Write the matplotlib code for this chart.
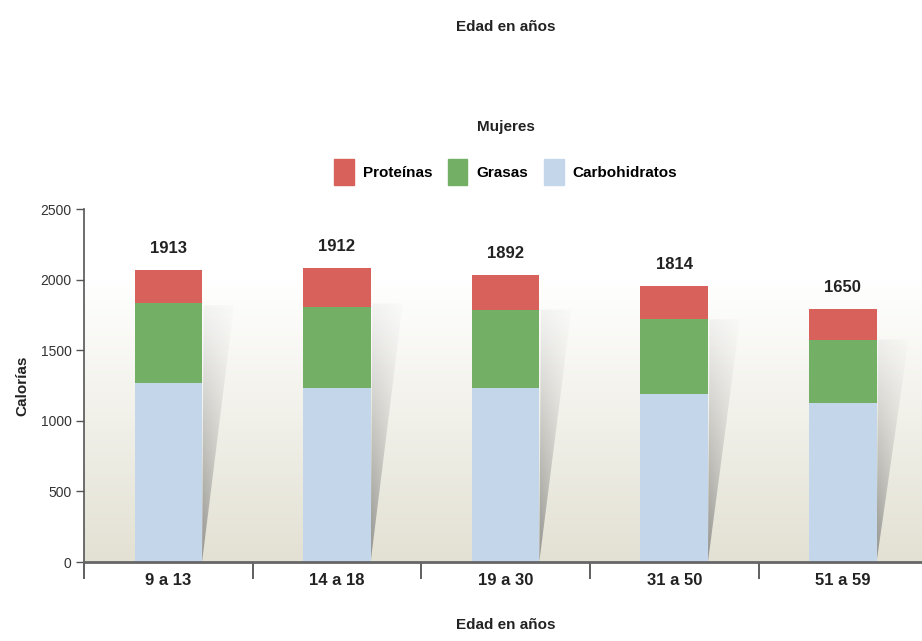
import numpy as np
import matplotlib
matplotlib.use('Agg')
import matplotlib.pyplot as plt
from matplotlib.patches import Polygon, Patch
from matplotlib.colors import to_rgb

plt.rcParams['font.family'] = ['Liberation Sans Narrow', 'Liberation Sans', 'DejaVu Sans']

# datos
edades = ['9 a 13', '14 a 18', '19 a 30', '31 a 50', '51 a 59']
carbohidratos = [1270, 1236, 1236, 1193, 1129]
grasas = [562, 568, 547, 526, 441]
proteinas = [235, 277, 248, 234, 220]
etiquetas = [1913, 1912, 1892, 1814, 1650]

c_prot = '#d9615b'
c_gras = '#73b066'
c_carb = '#c4d6e9'

fig = plt.figure(figsize=(9.22, 6.41), dpi=100, facecolor='white')
ax = fig.add_axes([0.0911, 0.1232, 0.909, 0.5507])

x = np.arange(len(edades))
ancho = 0.4
xmin, xmax = -0.5, 4.47
ax.set_xlim(xmin, xmax)
ax.set_ylim(0, 2500)

# fondo degradado blanco -> beige
bot = np.array(to_rgb('#e3e1d3'))
top = np.array([1.0, 1.0, 1.0])
t = np.clip(np.linspace(0, 1, 256) / 0.8, 0, 1)[:, None]
grad = (bot * (1 - t) + top * t)[:, None, :]
ax.imshow(grad, extent=[xmin, xmax, 0, 2500], origin='lower', aspect='auto',
          zorder=0, interpolation='bicubic')

# sombras detras de cada barra
totales = np.array(carbohidratos) + np.array(grasas) + np.array(proteinas)
for xi, tot in zip(x, totales):
    x0 = xi + ancho / 2
    htop = tot * 0.88
    poly = Polygon([[x0, 0], [x0 + 0.01, htop], [x0 + 0.19, htop]], closed=True,
                   facecolor='none', edgecolor='none')
    ax.add_patch(poly)
    n = 200
    yy, xx = np.mgrid[0:1:n * 1j, 0:1:n * 1j]
    img = np.zeros((n, n, 4))
    img[..., :3] = 0.5
    img[..., 3] = (0.08 + 0.7 * (1 - yy) ** 1.2) * (1 - 0.8 * xx)
    im = ax.imshow(img, extent=[x0, x0 + 0.19, 0, htop], origin='lower',
                   aspect='auto', zorder=1, interpolation='bilinear')
    im.set_clip_path(poly)

# barras apiladas
ax.bar(x, carbohidratos, ancho, color=c_carb, zorder=2)
ax.bar(x, grasas, ancho, bottom=carbohidratos, color=c_gras, zorder=2)
base = np.array(carbohidratos) + np.array(grasas)
ax.bar(x, proteinas, ancho, bottom=base, color=c_prot, zorder=2)

for xi, tot, lab in zip(x, totales, etiquetas):
    ax.text(xi, tot + 100, str(lab), ha='center', va='bottom', fontsize=12,
            fontweight='bold', color='#222222')

# ejes
for s in ['top', 'right']:
    ax.spines[s].set_visible(False)
ax.spines['left'].set_color('#555555')
ax.spines['left'].set_linewidth(1.2)
ax.spines['bottom'].set_color('#666666')
ax.spines['bottom'].set_linewidth(2)

ax.set_yticks([0, 500, 1000, 1500, 2000, 2500])
ax.tick_params(axis='y', direction='out', length=6, width=1, color='#555555',
               labelsize=10, labelcolor='#333333', pad=3)
ax.set_xticks(x)
ax.set_xticklabels(edades, fontsize=12, fontweight='bold', color='#222222')
ax.tick_params(axis='x', which='major', length=0, pad=8)
ax.set_xticks(np.arange(-0.5, 4.5, 1), minor=True)
ax.tick_params(axis='x', which='minor', direction='out', length=12, width=1.2,
               color='#444444')

ax.set_ylabel('Calorías', fontsize=11, fontweight='bold', color='#222222', labelpad=8)

cx = 0.0911 + 0.909 * (2.0 - xmin) / (xmax - xmin)
fig.text(cx, 1 - 27 / 641, 'Edad en años', ha='center', va='center', fontsize=11,
         fontweight='bold', color='#222222')
fig.text(cx, 1 - 625 / 641, 'Edad en años', ha='center', va='center', fontsize=11,
         fontweight='bold', color='#222222')
fig.text(cx, 1 - 127 / 641, 'Mujeres', ha='center', va='center', fontsize=11,
         fontweight='bold', color='#222222')

handles = [Patch(color=c_prot, label='Proteínas'),
           Patch(color=c_gras, label='Grasas'),
           Patch(color=c_carb, label='Carbohidratos')]
fig.legend(handles=handles, loc='center', bbox_to_anchor=(cx, 1 - 172 / 641), ncol=3,
           frameon=False, handlelength=1.3, handleheight=2.2, handletextpad=0.6,
           columnspacing=1.0, prop={'size': 11, 'weight': 'bold'})

fig.savefig('out.png', dpi=100, facecolor='white')
